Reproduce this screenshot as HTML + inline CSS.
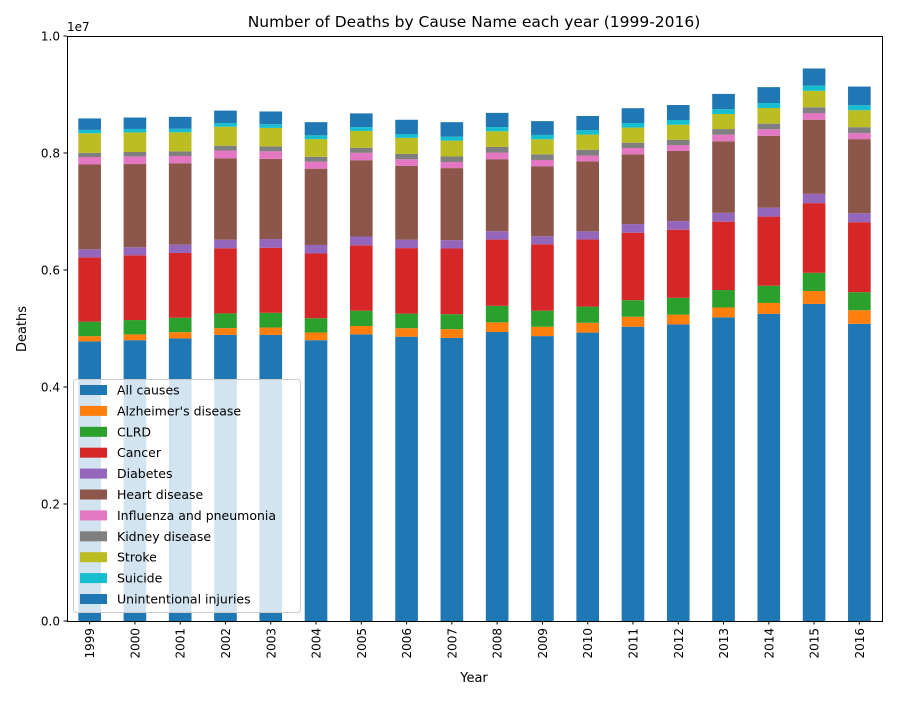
<!DOCTYPE html>
<html><head><meta charset="utf-8"><style>
body{margin:0;background:#fff;font-family:"Liberation Sans","DejaVu Sans",sans-serif}
svg text{font-family:"DejaVu Sans","Liberation Sans",sans-serif;fill:#000}
</style></head><body>
<svg id="chart" width="900" height="700" viewBox="0 0 900 700" xmlns="http://www.w3.org/2000/svg">
<rect width="900" height="700" fill="#fff"/>
<g id="bars"></g>
<rect x="67.5" y="36.5" width="815" height="585" fill="none" stroke="#000" stroke-width="1"/>
<g id="axes"></g>
<text x="474" y="27" font-size="15.5" text-anchor="middle">Number of Deaths by Cause Name each year (1999-2016)</text>
<text x="67" y="31" font-size="12">1e7</text>
<text transform="translate(26,329) rotate(-90)" font-size="13" text-anchor="middle">Deaths</text>
<text x="474" y="682" font-size="13" text-anchor="middle">Year</text>
<g id="legend"></g>
</svg>
<script>
const years=[1999,2000,2001,2002,2003,2004,2005,2006,2007,2008,2009,2010,2011,2012,2013,2014,2015,2016];
const causes=["All causes","Alzheimer's disease","CLRD","Cancer","Diabetes","Heart disease","Influenza and pneumonia","Kidney disease","Stroke","Suicide","Unintentional injuries"];
const allCauses=[4.78,4.80,4.83,4.89,4.89,4.80,4.90,4.86,4.84,4.94,4.87,4.93,5.03,5.07,5.19,5.25,5.42,5.08];
const alzheimers=[0.089,0.099,0.107,0.117,0.126,0.132,0.143,0.145,0.149,0.165,0.159,0.167,0.170,0.167,0.169,0.187,0.221,0.232];
const clrd=[0.248,0.245,0.247,0.251,0.252,0.243,0.261,0.249,0.255,0.283,0.275,0.277,0.284,0.287,0.298,0.294,0.311,0.309];
const cancer=[1.100,1.107,1.107,1.114,1.113,1.107,1.118,1.120,1.124,1.132,1.135,1.149,1.154,1.165,1.169,1.182,1.191,1.196];
const diabetes=[0.137,0.139,0.142,0.146,0.148,0.146,0.151,0.145,0.143,0.142,0.137,0.138,0.147,0.147,0.151,0.153,0.159,0.155];
const heart=[1.450,1.421,1.392,1.392,1.370,1.304,1.304,1.262,1.231,1.232,1.198,1.195,1.193,1.199,1.223,1.229,1.267,1.265];
const influenza=[0.127,0.131,0.124,0.132,0.130,0.120,0.126,0.113,0.105,0.113,0.107,0.100,0.107,0.101,0.114,0.111,0.114,0.103];
const kidney=[0.071,0.075,0.079,0.082,0.085,0.084,0.087,0.090,0.093,0.097,0.097,0.100,0.091,0.091,0.095,0.096,0.099,0.101];
const stroke=[0.335,0.335,0.326,0.325,0.315,0.301,0.287,0.275,0.271,0.267,0.257,0.259,0.258,0.256,0.258,0.267,0.281,0.290];
const suicide=[0.058,0.059,0.061,0.063,0.063,0.065,0.065,0.066,0.069,0.072,0.074,0.077,0.079,0.081,0.082,0.085,0.089,0.085];
const unintentional=[0.196,0.195,0.203,0.213,0.218,0.225,0.235,0.243,0.247,0.243,0.236,0.241,0.253,0.256,0.261,0.272,0.293,0.320];
const yTicks=[0,0.2,0.4,0.6,0.8,1.0];
const yTickLabels=["0.0","0.2","0.4","0.6","0.8","1.0"];
const series=[allCauses,alzheimers,clrd,cancer,diabetes,heart,influenza,kidney,stroke,suicide,unintentional];
const colors=["#1f77b4","#ff7f0e","#2ca02c","#d62728","#9467bd","#8c564b","#e377c2","#7f7f7f","#bcbd22","#17becf","#1f77b4"];
const NS="http://www.w3.org/2000/svg";
const X0=67,X1=882,Y0=621,Y1=36;
const band=(X1-X0)/years.length;
const xc=i=>X0+band*(i+0.5);
const y=v=>Y0-(v/10)*(Y0-Y1); // v in millions, axis max 1e7
function mk(tag,attrs,parent){const e=document.createElementNS(NS,tag);for(const k in attrs)e.setAttribute(k,attrs[k]);parent.appendChild(e);return e;}
const gb=document.getElementById('bars');
years.forEach((yr,i)=>{
  let base=0;
  series.forEach((s,j)=>{
    const top=base+s[i];
    const r=mk('rect',{x:xc(i)-band*0.25,y:y(top),width:band*0.5,height:y(base)-y(top),fill:colors[j]},gb);
    
    
    base=top;
  });
});
const ga=document.getElementById('axes');
yTicks.forEach((t,k)=>{
  const yy=Y0-t*(Y0-Y1);
  const l=mk('line',{x1:X0-3.5,x2:X0,y1:yy,y2:yy,stroke:'#000'},ga);
  
  
  const tx=mk('text',{x:X0-7,y:yy+4.5,'font-size':12,'text-anchor':'end'},ga);
  tx.textContent=yTickLabels[k];
  
  
});
years.forEach((yr,i)=>{
  const x=xc(i);
  const l=mk('line',{x1:x,x2:x,y1:Y0,y2:Y0+3.5,stroke:'#000'},ga);
  
  
  const tx=mk('text',{transform:`translate(${x+4.5},${Y0+7}) rotate(-90)`,'font-size':12,'text-anchor':'end'},ga);
  tx.textContent=yr;
  
  
});
const gl=document.getElementById('legend');
const lb=mk('rect',{x:73.5,y:379.5,width:227,height:233,rx:3,fill:'rgba(255,255,255,0.8)',stroke:'#cccccc'},gl);


causes.forEach((c,j)=>{
  const yy=390+j*20.9;
  const p=mk('rect',{x:80,y:yy-5,width:27,height:10,fill:colors[j]},gl);
  
  
  const t=mk('text',{x:117,y:yy+4.5,'font-size':12.5},gl);
  t.textContent=c;
  
  
});
</script>
</body></html>
